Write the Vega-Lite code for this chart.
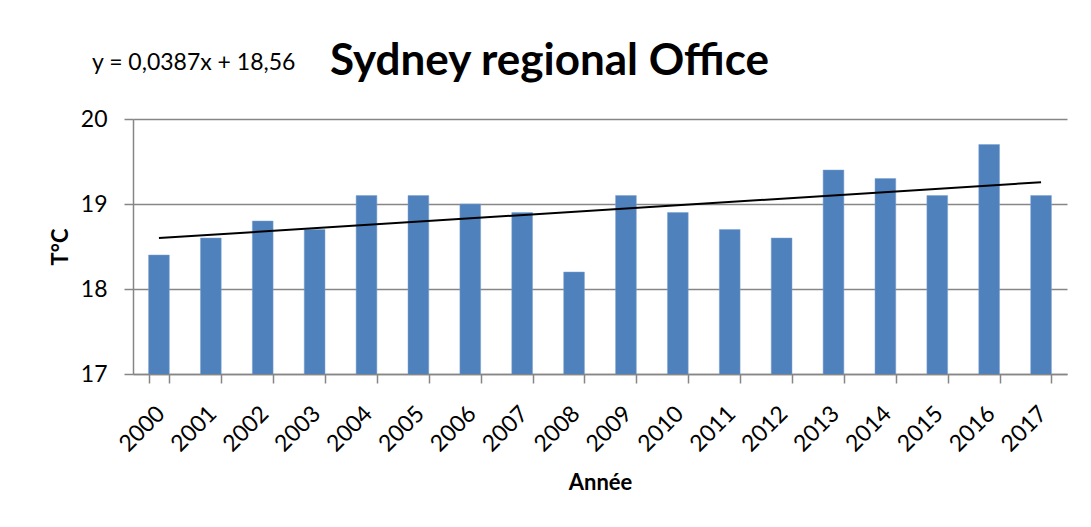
{
  "$schema": "https://vega.github.io/schema/vega-lite/v6.json",
  "width": 934,
  "height": 255,
  "autosize": {"type": "none"},
  "padding": {"left": 133, "top": 119, "right": 24, "bottom": 153},
  "background": "white",
  "config": {
    "view": {"stroke": null},
    "font": "Lato",
    "axis": {
      "domainColor": "#868686",
      "tickColor": "#868686",
      "gridColor": "#868686",
      "domainWidth": 1.5,
      "tickWidth": 1.5,
      "gridWidth": 1.5,
      "labelFont": "Lato",
      "labelFontSize": 23,
      "labelColor": "#000000",
      "titleFont": "Lato",
      "titleFontSize": 22,
      "titleFontWeight": "bold",
      "titleColor": "#000000",
      "tickSize": 9
    }
  },
  "title": {
    "text": "Sydney regional Office",
    "anchor": "start",
    "frame": "group",
    "dx": 197,
    "offset": -32,
    "font": "Lato",
    "fontSize": 44,
    "fontWeight": "bold",
    "color": "#000000"
  },
  "layer": [
    {
      "data": {
        "values": [
          {"year": "2000", "temp": 18.4},
          {"year": "2001", "temp": 18.6},
          {"year": "2002", "temp": 18.8},
          {"year": "2003", "temp": 18.7},
          {"year": "2004", "temp": 19.1},
          {"year": "2005", "temp": 19.1},
          {"year": "2006", "temp": 19.0},
          {"year": "2007", "temp": 18.9},
          {"year": "2008", "temp": 18.2},
          {"year": "2009", "temp": 19.1},
          {"year": "2010", "temp": 18.9},
          {"year": "2011", "temp": 18.7},
          {"year": "2012", "temp": 18.6},
          {"year": "2013", "temp": 19.4},
          {"year": "2014", "temp": 19.3},
          {"year": "2015", "temp": 19.1},
          {"year": "2016", "temp": 19.7},
          {"year": "2017", "temp": 19.1}
        ]
      },
      "mark": {"type": "bar", "color": "#4F81BD", "stroke": "#7FA3CF", "strokeWidth": 0.5, "clip": true},
      "encoding": {
        "x": {
          "field": "year",
          "type": "ordinal",
          "scale": {"paddingInner": 0.6, "paddingOuter": 0.3},
          "axis": {
            "title": "Année",
            "labelAngle": -45,
            "labelPadding": 19,
            "labelOffset": -6,
            "tickBand": "extent",
            "titlePadding": 17,
            "grid": false
          }
        },
        "y": {
          "field": "temp",
          "type": "quantitative",
          "scale": {"domain": [17, 20], "nice": false, "zero": false},
          "axis": {
            "title": "T°C",
            "values": [17, 18, 19, 20],
            "format": "d",
            "grid": true,
            "labelPadding": 17,
            "titlePadding": 8
          }
        }
      }
    },
    {
      "data": {
        "values": [
          {"year": "2000", "trend": 18.5987},
          {"year": "2017", "trend": 19.2566}
        ]
      },
      "mark": {"type": "line", "color": "#000000", "strokeWidth": 2},
      "encoding": {
        "x": {"field": "year", "type": "ordinal"},
        "y": {"field": "trend", "type": "quantitative"}
      }
    },
    {
      "data": {"values": [{"eq": "y = 0,0387x + 18,56"}]},
      "mark": {"type": "text", "align": "left", "baseline": "alphabetic", "fontSize": 23, "font": "Lato", "color": "#000000", "dx": -67},
      "encoding": {
        "x": {"datum": "2000", "type": "ordinal"},
        "y": {"datum": 20.58, "type": "quantitative"},
        "text": {"field": "eq"}
      }
    }
  ]
}
